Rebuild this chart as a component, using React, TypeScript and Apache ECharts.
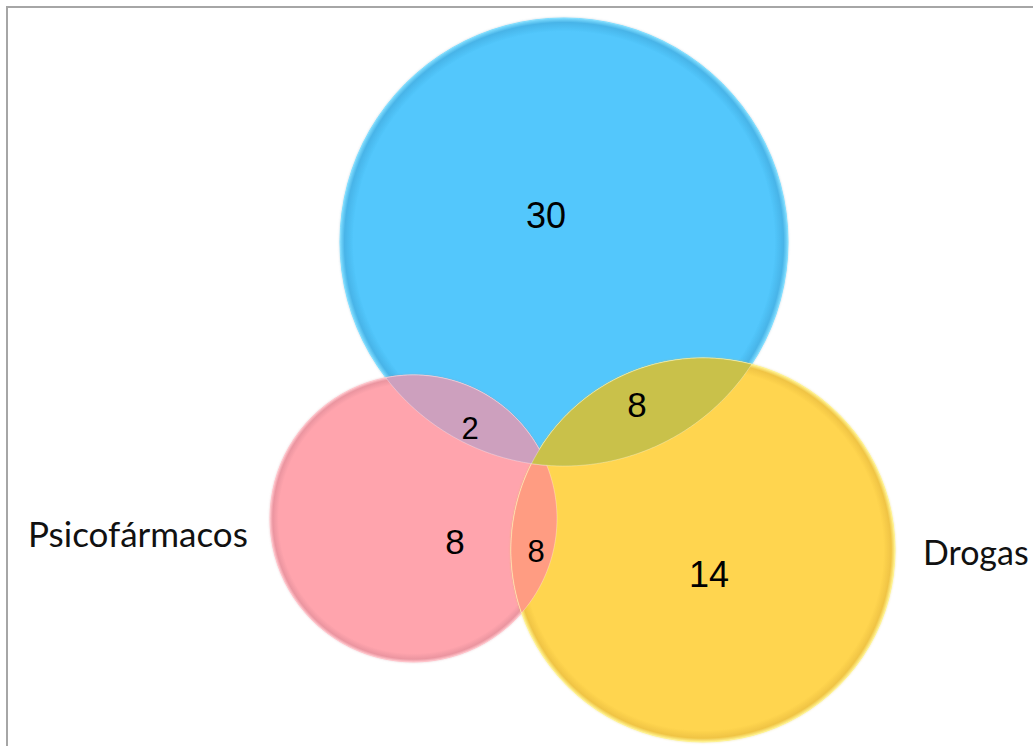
import React, { useEffect, useRef } from "react";
import * as echarts from "echarts";

// ---- data ----
const setLabels = ["", "Psicofármacos", "Drogas"];
const regionNames = ["A", "B", "C", "A∩B", "A∩C", "B∩C"];
const regionCounts = [30, 8, 14, 2, 8, 8];

// ---- layout (plot units, 1 unit = 1 px) ----
const circleLayout = [
  { cx: 564, cy: 242, r: 224 },
  { cx: 413.5, cy: 518.5, r: 143.5 },
  { cx: 703, cy: 550, r: 192 },
];
const lensPairs = [
  [1, 2],
  [0, 1],
  [0, 2],
];
const regionLabelPos = [
  [546, 215, 36],
  [455, 541, 35],
  [709, 574, 36],
  [470, 428, 31],
  [637, 404, 35],
  [536, 551, 31],
];
const setLabelPos = [
  [0, 0, 35],
  [28, 533, 35],
  [923, 551, 34],
];

const circleStyles = [
  { base: "#52C7FC", band: "#48B4E8", rim: "#7FDDFF", glow: "rgba(90,140,170,0.35)" },
  { base: "#FFA4AD", band: "#EB95A0", rim: "#FFC2C9", glow: "rgba(200,120,130,0.35)" },
  { base: "#FFD54F", band: "#F0C444", rim: "#FFF28E", glow: "rgba(220,190,60,0.4)" },
];
const lensColors: Record<string, string> = {
  "1-2": "#FF9C82",
  "0-1": "#CDA0BE",
  "0-2": "#C9C14A",
};

export default function App() {
  const ref = useRef<HTMLDivElement>(null);
  useEffect(() => {
    const chart = echarts.init(ref.current!, null, { renderer: "svg" });

    const circleSeries = {
      type: "custom",
      coordinateSystem: "cartesian2d",
      silent: true,
      data: circleLayout.map((c, i) => [c.cx, c.cy, c.r, i]),
      renderItem: (params: any, api: any) => {
        const i = api.value(3);
        const p = api.coord([api.value(0), api.value(1)]);
        const rr = api.size([api.value(2), api.value(2)])[0];
        const s = circleStyles[i];
        return {
          type: "circle",
          shape: { cx: p[0], cy: p[1], r: rr },
          style: {
            fill: new echarts.graphic.RadialGradient(0.5, 0.5, 0.5, [
              { offset: 0, color: s.base },
              { offset: 0.94, color: s.base },
              { offset: 0.98, color: s.band },
              { offset: 1, color: s.rim },
            ]),
            stroke: s.rim,
            lineWidth: 1,
            shadowBlur: 2,
            shadowColor: s.glow,
          },
        };
      },
    };

    const lensSeries = {
      type: "custom",
      coordinateSystem: "cartesian2d",
      silent: true,
      data: lensPairs.map((p) => [p[0], p[1]]),
      renderItem: (params: any, api: any) => {
        const ia = api.value(0);
        const ib = api.value(1);
        const A = circleLayout[ia];
        const B = circleLayout[ib];
        const c1 = api.coord([A.cx, A.cy]);
        const c2 = api.coord([B.cx, B.cy]);
        const r1 = api.size([A.r, A.r])[0];
        const r2 = api.size([B.r, B.r])[0];
        const dx = c2[0] - c1[0];
        const dy = c2[1] - c1[1];
        const d = Math.sqrt(dx * dx + dy * dy);
        const a = (r1 * r1 - r2 * r2 + d * d) / (2 * d);
        const phi = Math.atan2(dy, dx);
        const alpha = Math.acos(Math.max(-1, Math.min(1, a / r1)));
        const beta = Math.acos(Math.max(-1, Math.min(1, (d - a) / r2)));
        const pts: number[][] = [];
        const N = 90;
        for (let k = 0; k <= N; k++) {
          const t = phi - alpha + (2 * alpha * k) / N;
          pts.push([c1[0] + r1 * Math.cos(t), c1[1] + r1 * Math.sin(t)]);
        }
        for (let k = 0; k <= N; k++) {
          const t = phi + Math.PI - beta + (2 * beta * k) / N;
          pts.push([c2[0] + r2 * Math.cos(t), c2[1] + r2 * Math.sin(t)]);
        }
        return {
          type: "polygon",
          shape: { points: pts },
          style: {
            fill: lensColors[ia + "-" + ib],
            stroke: "rgba(255,255,255,0.3)",
            lineWidth: 1,
          },
        };
      },
    };

    const countSeries = {
      type: "custom",
      coordinateSystem: "cartesian2d",
      silent: true,
      data: regionCounts.map((v, i) => [regionLabelPos[i][0], regionLabelPos[i][1], v, regionLabelPos[i][2]]),
      renderItem: (params: any, api: any) => {
        const p = api.coord([api.value(0), api.value(1)]);
        return {
          type: "text",
          x: p[0],
          y: p[1],
          style: {
            text: String(api.value(2)),
            fontFamily: "'Liberation Sans', Arial, sans-serif",
            fontSize: api.value(3),
            fill: "#000",
            align: "center",
            verticalAlign: "middle",
          },
        };
      },
    };

    const visibleLabels = setLabels
      .map((name, i) => ({ name, pos: setLabelPos[i] }))
      .filter((d) => d.name !== "");

    const setLabelSeries = {
      type: "custom",
      coordinateSystem: "cartesian2d",
      silent: true,
      data: visibleLabels.map((d) => ({ name: d.name, value: [d.pos[0], d.pos[1], d.pos[2]] })),
      renderItem: (params: any, api: any) => {
        const p = api.coord([api.value(0), api.value(1)]);
        return {
          type: "text",
          x: p[0],
          y: p[1],
          style: {
            text: visibleLabels[params.dataIndex].name,
            fontFamily: "Lato, 'Open Sans', sans-serif",
            fontSize: api.value(2),
            fill: "#111",
            align: "left",
            verticalAlign: "middle",
          },
        };
      },
    };

    chart.setOption({
      animation: false,
      backgroundColor: "#fff",
      grid: { left: 0, right: 0, top: 0, bottom: 0 },
      xAxis: { type: "value", min: 0, max: 1033, show: false },
      yAxis: { type: "value", min: 0, max: 746, inverse: true, show: false },
      graphic: [
        {
          type: "rect",
          shape: { x: 7, y: 7, width: 1100, height: 800 },
          style: { fill: "none", stroke: "#A6A6A6", lineWidth: 2 },
          z: 100,
          silent: true,
        },
      ],
      series: [circleSeries, lensSeries, countSeries, setLabelSeries],
    });
    return () => chart.dispose();
  }, []);
  return (
    <div
      ref={ref}
      style={{ position: "fixed", left: 0, top: 0, width: 1033, height: 746 }}
    />
  );
}
